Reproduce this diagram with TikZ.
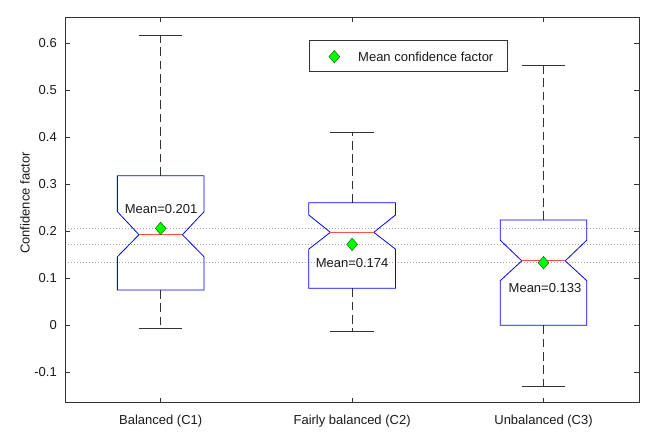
\documentclass[tikz,border=0pt]{standalone}
\usepackage{fontspec}
\setmainfont{Liberation Sans}
\usetikzlibrary{positioning, shapes.geometric}

\begin{document}
\begin{tikzpicture}[x=191.4pt, y=470.6pt,
  axisline/.style={black!80, line width=0.8pt},
  boxline/.style={blue, line width=0.8pt},
  medline/.style={red!70, line width=0.8pt},
  whisker/.style={black!80, line width=0.8pt, dash pattern=on 8.7pt off 4.6pt},
  capline/.style={black!80, line width=0.8pt},
  refline/.style={black!35, line width=0.8pt, dash pattern=on 1pt off 2pt},
  meanmark/.style={diamond, fill=green, draw=green!35!black, line width=0.4pt, inner sep=0pt, minimum width=11pt, minimum height=12.7pt},
  txt/.style={font=\fontsize{13}{15}\selectfont, text=black!90, inner sep=0pt}]
  \useasboundingbox (0.1604,-0.2246) rectangle (3.6296,0.6913);

  % dotted lines at the means
  \foreach \m in {0.206, 0.173, 0.133}
    \draw[refline] (0.5,\m) -- (3.5,\m);

  % notched boxes: centre / q1 / notch low / median / notch high / q3 / whisker low / whisker high
  \foreach \c/\qa/\nl/\md/\nu/\qb/\wb/\wt in {
      1/0.075/0.1458/0.1925/0.2414/0.318/-0.007/0.617,
      2/0.0786/0.162/0.1976/0.2344/0.2605/-0.012/0.409,
      3/0.0/0.0948/0.137/0.181/0.2238/-0.129/0.552}{
    \draw[whisker] (\c,\qb) -- (\c,\wt);
    \draw[whisker] (\c,\qa) -- (\c,\wb);
    \draw[capline] (\c-0.1134,\wt) -- (\c+0.1134,\wt);
    \draw[capline] (\c-0.1134,\wb) -- (\c+0.1134,\wb);
    \draw[boxline] (\c-0.2263,\qa) -- (\c-0.2263,\nl) -- (\c-0.1134,\md) -- (\c-0.2263,\nu)
      -- (\c-0.2263,\qb) -- (\c+0.2263,\qb) -- (\c+0.2263,\nu) -- (\c+0.1134,\md)
      -- (\c+0.2263,\nl) -- (\c+0.2263,\qa) -- cycle;
    \draw[medline] (\c-0.1134,\md) -- (\c+0.1134,\md);
  }

  % means
  \node[meanmark] (mean1) at (1,0.206) {};
  \node[meanmark] (mean2) at (2,0.172) {};
  \node[meanmark] (mean3) at (3,0.133) {};
  \node[txt] (lab1) at (1.002,0.247) {Mean=0.201};
  \node[txt] (lab2) at (2.0,0.133) {Mean=0.174};
  \node[txt] (lab3) at (3.008,0.0793) {Mean=0.133};

  % axes and ticks
  \draw[axisline] (0.5,-0.1645) rectangle (3.5,0.655);
  \foreach \v/\t in {-0.1/-0.1, 0/0, 0.1/0.1, 0.2/0.2, 0.3/0.3, 0.4/0.4, 0.5/0.5, 0.6/0.6}{
    \draw[axisline] (0.5,\v) -- ++(5pt,0);
    \draw[axisline] (3.5,\v) -- ++(-5pt,0);
    \node[txt, anchor=east, xshift=-8pt] (ytick\t) at (0.5,\v) {\t};
  }
  \foreach \c/\t in {1/Balanced (C1), 2/Fairly balanced (C2), 3/Unbalanced (C3)}{
    \draw[axisline] (\c,-0.1645) -- ++(0,5pt);
    \draw[axisline] (\c,0.655) -- ++(0,-5pt);
    \node[txt, anchor=base, yshift=-21.8pt] (xtick\c) at (\c,-0.1645) {\t};
  }
  \node[txt, rotate=90] (ylab) at (0.291,0.26) {Confidence factor};

  % legend
  \draw[axisline] (1.7748,0.5389) rectangle (2.813,0.6063);
  \node[meanmark] (legmark) at (1.907,0.5708) {};
  \node[txt, anchor=west] (legtext) at (2.0308,0.5708) {Mean confidence factor};
\end{tikzpicture}
\end{document}
